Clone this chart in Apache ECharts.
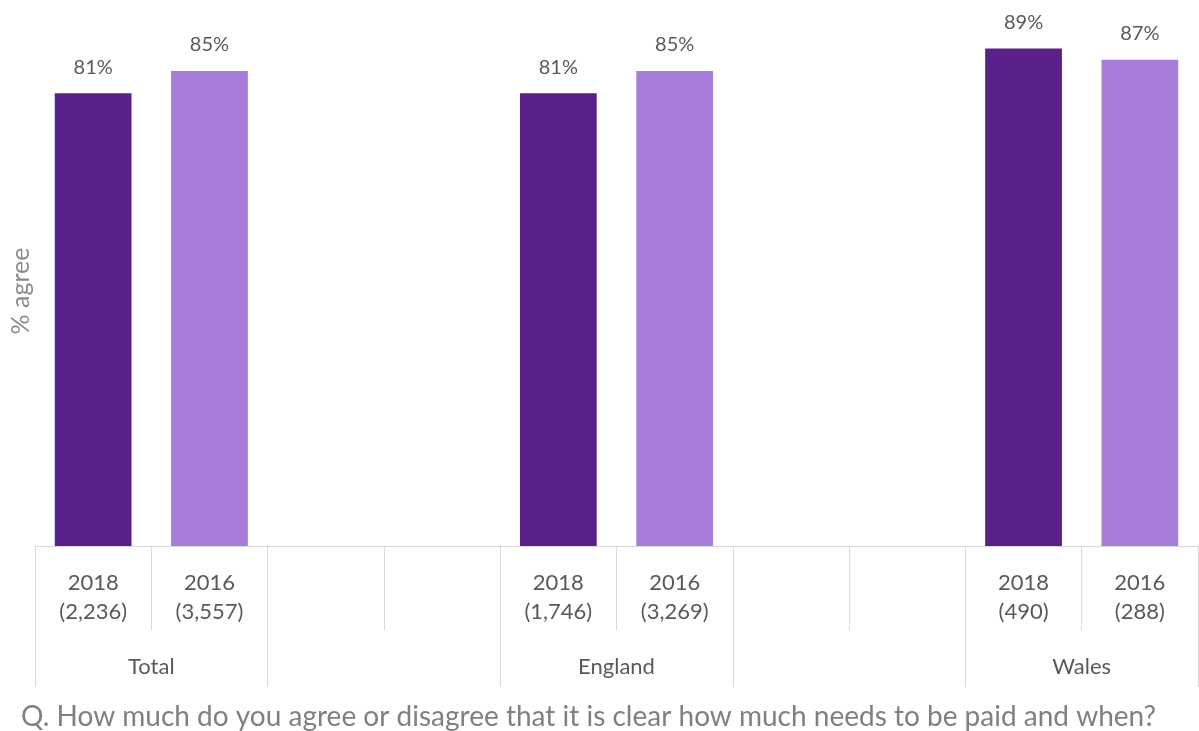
<!DOCTYPE html>
<html>
<head>
<meta charset="utf-8">
<style>
  html, body { margin: 0; padding: 0; background: #ffffff; }
  #chart { width: 1199px; height: 731px; }
</style>
<script src="https://cdn.jsdelivr.net/npm/echarts@6/dist/echarts.min.js"></script>
</head>
<body>
<div id="chart"></div>
<script>
// Survey groups and the two waves compared in each
const groups = ['Total', 'England', 'Wales'];
const years = ['2018', '2016'];
// Base sizes per group, per wave
const base2018 = ['2,236', '1,746', '490'];
const base2016 = ['3,557', '3,269', '288'];
// % agree per group, per wave
const agree2018 = [81, 81, 89];
const agree2016 = [85, 85, 87];
const questionText = 'Q. How much do you agree or disagree that it is clear how much needs to be paid and when?';
const yAxisTitle = '% agree';

// Each group takes two slots; groups are separated by two empty slots
const slotLabels = [];
const slotValues2018 = [];
const slotValues2016 = [];
const groupLabels = [];
groups.forEach(function (g, i) {
  if (i > 0) {
    slotLabels.push('', '');
    slotValues2018.push(null, null);
    slotValues2016.push(null, null);
    groupLabels.push('');
  }
  slotLabels.push(years[0] + '\n(' + base2018[i] + ')', years[1] + '\n(' + base2016[i] + ')');
  slotValues2018.push(agree2018[i], null);
  slotValues2016.push(null, agree2016[i]);
  groupLabels.push(g);
});
const slotKeys = slotLabels.map(function (_, i) { return 'slot' + i; });
const groupKeys = groupLabels.map(function (_, i) { return 'group' + i; });

const FONT = 'Lato';
const GRID_LINE = '#d9d9d9';

const chart = echarts.init(document.getElementById('chart'), null, { renderer: 'canvas' });

chart.setOption({
  backgroundColor: '#ffffff',
  animation: false,
  textStyle: { fontFamily: FONT },
  grid: { left: 35, right: 1, top: 0, bottom: 185, containLabel: false },
  title: {
    text: questionText,
    left: 21,
    top: 703,
    padding: 0,
    textStyle: { fontFamily: FONT, fontSize: 28, fontWeight: 'normal', color: '#808080' }
  },
  graphic: [{
    type: 'text',
    x: 21,
    y: 291,
    rotation: Math.PI / 2,
    style: {
      text: yAxisTitle,
      fontFamily: FONT,
      fontSize: 25,
      fill: '#8a8a8a',
      align: 'center',
      verticalAlign: 'middle'
    }
  }],
  xAxis: [{
    type: 'category',
    data: slotKeys,
    position: 'bottom',
    boundaryGap: true,
    axisLine: { show: true, lineStyle: { color: GRID_LINE, width: 1 } },
    axisTick: { show: true, interval: 0, length: 84, lineStyle: { color: GRID_LINE, width: 1 } },
    axisLabel: {
      interval: 0,
      margin: 22,
      fontFamily: FONT,
      fontSize: 22,
      lineHeight: 29,
      color: '#595959',
      formatter: function (v, i) { return slotLabels[i]; }
    },
    splitLine: { show: false }
  }, {
    type: 'category',
    data: groupKeys,
    position: 'bottom',
    boundaryGap: true,
    axisLine: { show: false },
    axisTick: { show: true, interval: 0, length: 141, lineStyle: { color: GRID_LINE, width: 1 } },
    axisLabel: {
      interval: 0,
      margin: 108,
      fontFamily: FONT,
      fontSize: 22,
      lineHeight: 26,
      color: '#595959',
      formatter: function (v, i) { return groupLabels[i]; }
    },
    splitLine: { show: false }
  }],
  yAxis: {
    type: 'value',
    min: 0,
    max: 97.7,
    show: false,
    splitLine: { show: false }
  },
  series: [{
    name: years[0],
    type: 'bar',
    xAxisIndex: 0,
    data: slotValues2018,
    barWidth: '66%',
    barGap: '-100%',
    itemStyle: { color: '#5a208a' },
    label: {
      show: true,
      position: 'top',
      distance: 16,
      fontFamily: FONT,
      fontSize: 20,
      color: '#595959',
      formatter: '{c}%'
    }
  }, {
    name: years[1],
    type: 'bar',
    xAxisIndex: 0,
    data: slotValues2016,
    barWidth: '66%',
    barGap: '-100%',
    itemStyle: { color: '#a87cda' },
    label: {
      show: true,
      position: 'top',
      distance: 16,
      fontFamily: FONT,
      fontSize: 20,
      color: '#595959',
      formatter: '{c}%'
    }
  }]
});
</script>
</body>
</html>
